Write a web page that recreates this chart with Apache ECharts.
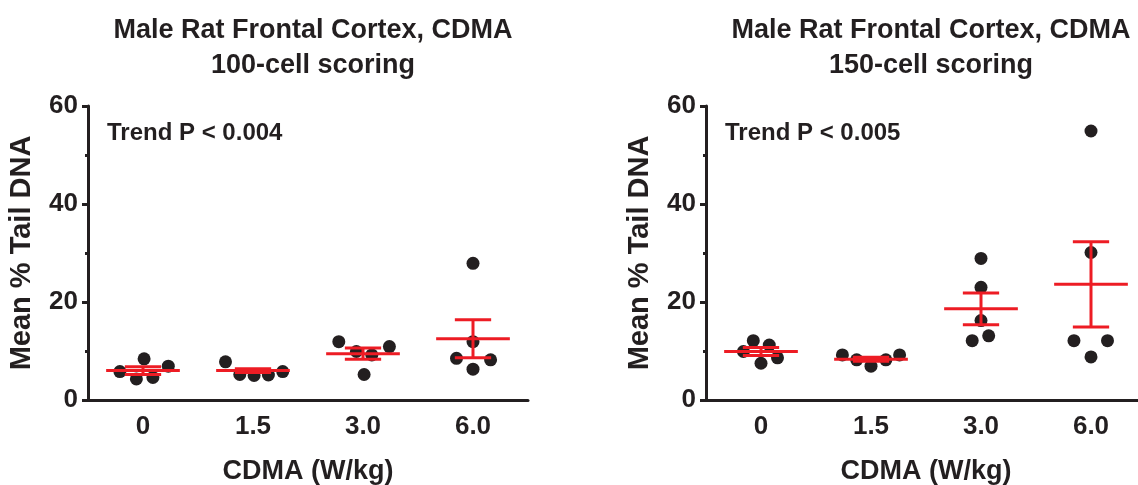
<!DOCTYPE html>
<html lang="en">
<head>
    <meta charset="UTF-8">
    <title>CDMA comet assay</title>
    <script src="https://cdn.jsdelivr.net/npm/echarts@6/dist/echarts.min.js"></script>
</head>
<body style="margin:0">
<div id="main" style="width: 1138px;height:485px;"></div>
<script>
    // 剂量分组
    var doses = ['0', '1.5', '3.0', '6.0'];

    // 100-cell scoring: 每只大鼠的值, 横向偏移, 均值, SEM
    var pts100 = [[5.8, 4.3, 8.4, 4.6, 6.9], [7.8, 5.2, 5.0, 5.1, 5.8], [11.9, 9.9, 9.2, 10.9, 5.2], [27.9, 11.9, 8.5, 8.2, 6.3]];
    var jit100 = [[-0.21, -0.06, 0.01, 0.09, 0.23], [-0.25, -0.12, 0.01, 0.14, 0.27], [-0.22, -0.06, 0.08, 0.24, 0.01], [0, 0, -0.15, 0.16, 0]];
    var mean100 = [6.0, 6.0, 9.45, 12.5];
    var sem100 = [0.8, 0.4, 1.15, 3.9];

    // 150-cell scoring
    var pts150 = [[9.9, 12.1, 7.5, 11.2, 8.6], [9.2, 8.2, 6.9, 8.2, 9.2], [28.9, 23.0, 16.2, 12.1, 13.1], [54.9, 30.1, 12.1, 12.1, 8.8]];
    var jit150 = [[-0.16, -0.07, 0, 0.075, 0.15], [-0.26, -0.13, 0, 0.135, 0.26], [0, 0, 0, -0.08, 0.07], [0, 0, -0.155, 0.15, 0]];
    var mean150 = [9.9, 8.3, 18.6, 23.6];
    var sem150 = [0.8, 0.4, 3.25, 8.7];

    var ink = '#231f20';
    var red = '#ed1c24';
    var font = 'Liberation Sans';

    function toPoints(pts, jit) {
        var res = [];
        for (var i = 0; i < pts.length; i++) {
            for (var j = 0; j < pts[i].length; j++) {
                res.push([i + jit[i][j], pts[i][j]]);
            }
        }
        return res;
    }
    function toBars(mean, sem) {
        var res = [];
        for (var i = 0; i < mean.length; i++) {
            res.push([i, mean[i], sem[i]]);
        }
        return res;
    }

    // 均值线 + SEM 误差棒
    function errRender(params, api) {
        var x = api.value(0), m = api.value(1), s = api.value(2);
        var c = api.coord([x, m]);
        var hi = api.coord([x, m + s]);
        var lo = api.coord([x, m - s]);
        var band = api.size([1, 0])[0];
        var mw = band * 0.335, cw = band * 0.165;
        var st = {stroke: red, lineWidth: 3};
        return {
            type: 'group',
            children: [
                {type: 'line', shape: {x1: hi[0], y1: hi[1], x2: lo[0], y2: lo[1]}, style: st},
                {type: 'line', shape: {x1: hi[0] - cw, y1: hi[1], x2: hi[0] + cw, y2: hi[1]}, style: st},
                {type: 'line', shape: {x1: lo[0] - cw, y1: lo[1], x2: lo[0] + cw, y2: lo[1]}, style: st},
                {type: 'line', shape: {x1: c[0] - mw, y1: c[1], x2: c[0] + mw, y2: c[1]}, style: st}
            ]
        };
    }

    function catAxis(gi) {
        return {
            type: 'category', gridIndex: gi, data: doses,
            name: 'CDMA (W/kg)', nameLocation: 'middle', nameGap: 58,
            nameTextStyle: {color: ink, fontFamily: font, fontWeight: 'bold', fontSize: 27},
            axisLine: {lineStyle: {color: ink, width: 3}},
            axisTick: {alignWithLabel: true, length: 6, lineStyle: {color: ink, width: 3}},
            axisLabel: {color: ink, fontFamily: font, fontWeight: 'bold', fontSize: 26, margin: 14},
            splitLine: {show: false}
        };
    }
    function valXAxis(gi) {
        return {type: 'value', gridIndex: gi, min: -0.5, max: 3.5, show: false};
    }
    function yAxis(gi) {
        return {
            type: 'value', gridIndex: gi, min: 0, max: 60, interval: 20,
            name: 'Mean % Tail DNA', nameLocation: 'middle', nameGap: 52, nameRotate: 90,
            nameTextStyle: {color: ink, fontFamily: font, fontWeight: 'bold', fontSize: 29},
            axisLine: {show: true, onZero: false, lineStyle: {color: ink, width: 3}},
            axisTick: {show: true, length: 6, lineStyle: {color: ink, width: 3}},
            minorTick: {show: true, splitNumber: 2, length: 3, lineStyle: {color: ink, width: 3}},
            axisLabel: {color: ink, fontFamily: font, fontWeight: 'bold', fontSize: 26, margin: 10},
            splitLine: {show: false}
        };
    }

    var myChart = echarts.init(document.getElementById('main'));

    var option = {
        backgroundColor: '#ffffff',
        animation: false,
        title: [
            {text: 'Male Rat Frontal Cortex, CDMA\n100-cell scoring', left: 308, top: 8, textAlign: 'center',
                textStyle: {color: ink, fontFamily: font, fontWeight: 'bold', fontSize: 27, lineHeight: 35}},
            {text: 'Male Rat Frontal Cortex, CDMA\n150-cell scoring', left: 926, top: 8, textAlign: 'center',
                textStyle: {color: ink, fontFamily: font, fontWeight: 'bold', fontSize: 27, lineHeight: 35}},
            {text: 'Trend P < 0.004', left: 102, top: 116,
                textStyle: {color: ink, fontFamily: font, fontWeight: 'bold', fontSize: 24}},
            {text: 'Trend P < 0.005', left: 720, top: 116,
                textStyle: {color: ink, fontFamily: font, fontWeight: 'bold', fontSize: 24}}
        ],
        grid: [
            {left: 88, top: 106, width: 440, height: 294, outerBoundsMode: 'none', containLabel: false},
            {left: 706, top: 106, width: 440, height: 294, outerBoundsMode: 'none', containLabel: false}
        ],
        xAxis: [catAxis(0), catAxis(1), valXAxis(0), valXAxis(1)],
        yAxis: [yAxis(0), yAxis(1)],
        series: [
            {
                name: '100-cell', type: 'scatter', xAxisIndex: 2, yAxisIndex: 0,
                data: toPoints(pts100, jit100), symbolSize: 13,
                itemStyle: {color: ink, opacity: 1}
            },
            {
                name: '150-cell', type: 'scatter', xAxisIndex: 3, yAxisIndex: 1,
                data: toPoints(pts150, jit150), symbolSize: 13,
                itemStyle: {color: ink, opacity: 1}
            },
            {
                name: '100-cell mean', type: 'custom', xAxisIndex: 2, yAxisIndex: 0,
                data: toBars(mean100, sem100), renderItem: errRender,
                encode: {x: 0, y: 1}, z: 5
            },
            {
                name: '150-cell mean', type: 'custom', xAxisIndex: 3, yAxisIndex: 1,
                data: toBars(mean150, sem150), renderItem: errRender,
                encode: {x: 0, y: 1}, z: 5
            }
        ]
    };
    myChart.setOption(option);
</script>
</body>
</html>
